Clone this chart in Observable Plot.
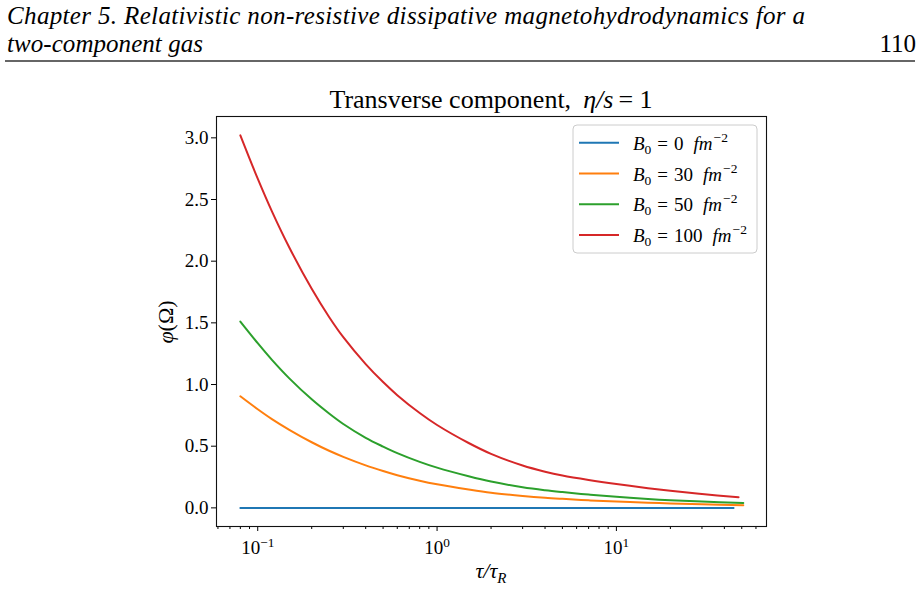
<!DOCTYPE html>
<html>
<head>
<meta charset="utf-8">
<script src="https://cdn.jsdelivr.net/npm/d3@7"></script>
<script src="https://cdn.jsdelivr.net/npm/@observablehq/plot@0.6"></script>
<style>
  html, body { margin: 0; padding: 0; background: #fff; }
  #page { width: 920px; height: 590px; position: relative; overflow: hidden; background: #fff; }
  #header, #chart svg { display: block; }
</style>
</head>
<body>
<div id="page">
  <svg id="header" width="920" height="70"></svg>
  <div id="chart"></div>
</div>
<script>
// Proper time in units of the relaxation time, shared by all curves
const tau = [0.08, 0.1, 0.12, 0.15, 0.2, 0.25, 0.3, 0.4, 0.5, 0.6, 0.8, 1,
             1.5, 2, 3, 4, 5, 7, 10, 15, 20, 30];
// Last time sample of each curve (B0 = 0, 30, 50, 100)
const tauEnd = [45, 51, 51, 48];

// Magnetic field strengths B0 in fm^-2
const fields = [0, 30, 50, 100];
const colors = ["#1f77b4", "#ff7f0e", "#2ca02c", "#d62728"];

// Transverse component φ(Ω) for each field strength
const phiB0   = [0, 0, 0, 0, 0, 0, 0, 0, 0, 0, 0, 0, 0, 0, 0, 0, 0, 0, 0, 0, 0, 0, 0];
const phiB30  = [0.905, 0.800, 0.720, 0.633, 0.532, 0.463, 0.414, 0.345, 0.299, 0.265, 0.220, 0.191,
                 0.149, 0.123, 0.097, 0.082, 0.073, 0.061, 0.051, 0.042, 0.036, 0.029, 0.022];
const phiB50  = [1.51, 1.335, 1.20, 1.05, 0.88, 0.765, 0.68, 0.568, 0.497, 0.444, 0.373, 0.326,
                 0.256, 0.213, 0.167, 0.143, 0.128, 0.108, 0.090, 0.072, 0.062, 0.051, 0.040];
const phiB100 = [3.02, 2.669, 2.404, 2.111, 1.776, 1.548, 1.384, 1.166, 1.020, 0.914, 0.769, 0.672,
                 0.526, 0.438, 0.343, 0.293, 0.262, 0.226, 0.193, 0.160, 0.139, 0.112, 0.086];

// Axis ticks
const yTicks = [0, 0.5, 1, 1.5, 2, 2.5, 3];
const xMajor = [0.1, 1, 10];
const xMinor = [0.06, 0.07, 0.08, 0.09, 0.2, 0.3, 0.4, 0.5, 0.6, 0.7, 0.8, 0.9,
                2, 3, 4, 5, 6, 7, 8, 9, 20, 30, 40, 50, 60];

const seriesValues = [phiB0, phiB30, phiB50, phiB100];
const rows = fields.flatMap((b, i) =>
  seriesValues[i].map((v, j) => ({tau: j < tau.length ? tau[j] : tauEnd[i], phi: v, b}))
);

// Pick the first installed Times-like serif face
function pickFont(candidates) {
  const ctx = document.createElement("canvas").getContext("2d");
  const sample = "Transverse component 0123456789 Relativistic";
  for (const base of ["monospace", "sans-serif"]) {
    ctx.font = `40px ${base}`;
    const ref = ctx.measureText(sample).width;
    for (const f of candidates) {
      ctx.font = `40px "${f}", ${base}`;
      if (Math.abs(ctx.measureText(sample).width - ref) > 0.5) return `"${f}", serif`;
    }
  }
  return "serif";
}
const serif = pickFont(["Liberation Serif", "Tinos", "Times New Roman", "Nimbus Roman",
                        "Nimbus Roman No9 L", "FreeSerif", "DejaVu Serif", "Noto Serif"]);

// Running page header
const header = d3.select("#header");
header.append("text")
  .attr("x", 7).attr("y", 24).attr("text-anchor", "start")
  .attr("font-family", serif).attr("font-style", "italic").attr("font-size", 25)
  .attr("textLength", 798).attr("lengthAdjust", "spacing")
  .text("Chapter 5.   Relativistic non-resistive dissipative magnetohydrodynamics for a");
header.append("text")
  .attr("x", 7).attr("y", 52).attr("text-anchor", "start")
  .attr("font-family", serif).attr("font-style", "italic").attr("font-size", 25)
  .attr("textLength", 196).attr("lengthAdjust", "spacing")
  .text("two-component gas");
header.append("text")
  .attr("x", 916).attr("y", 52).attr("text-anchor", "end")
  .attr("font-family", serif).attr("font-size", 25)
  .text("110");
header.append("line")
  .attr("x1", 5).attr("x2", 915).attr("y1", 61).attr("y2", 61)
  .attr("stroke", "#333").attr("stroke-width", 1.3);

const chart = Plot.plot({
  width: 920,
  height: 520,
  marginTop: 46,
  marginBottom: 64,
  marginLeft: 216,
  marginRight: 154,
  style: {fontFamily: serif, background: "white", color: "black"},
  x: {type: "log", domain: [0.0589, 68.7]},
  y: {domain: [-0.151, 3.173]},
  color: {domain: fields, range: colors},
  marks: [
    Plot.axisY({ticks: yTicks, tickSize: 5, tickPadding: 3, tickFormat: d3.format(".1f"),
                fontSize: 19, label: null}),
    Plot.axisX({ticks: xMinor, tickSize: 3, tickFormat: () => "", label: null}),
    Plot.axisX({ticks: xMajor, tickSize: 5, tickPadding: 9,
                tickFormat: d => "10^" + Math.round(Math.log10(d)), fontSize: 19, label: null}),
    Plot.line(rows, {x: "tau", y: "phi", z: "b", stroke: "b", strokeWidth: 2, curve: "catmull-rom"}),
    Plot.frame({stroke: "#111", strokeWidth: 1.1})
  ]
});

document.getElementById("chart").appendChild(chart);
const svg = d3.select(chart);

// Powers of ten with a raised exponent
svg.selectAll('g[aria-label="x-axis tick label"] text').each(function() {
  const t = this.textContent;
  if (!t.startsWith("10^")) return;
  const e = t.slice(3).replace("-", "\u2212");
  const s = d3.select(this);
  s.text(null);
  s.append("tspan").text("10");
  s.append("tspan").attr("dy", "-0.5em").attr("font-size", "70%").text(e);
});

const cx = 216 + (920 - 216 - 154) / 2;

// Title
const title = svg.append("text")
  .attr("x", cx).attr("y", 38).attr("text-anchor", "middle")
  .attr("font-family", serif).attr("font-size", 26).attr("fill", "black");
title.append("tspan").text("Transverse component,");
title.append("tspan").attr("dx", 12).attr("font-style", "italic").text("η/s");
title.append("tspan").attr("dx", 5).text("= 1");

// Axis labels
const ylab = svg.append("text")
  .attr("transform", "translate(173,252) rotate(-90)")
  .attr("text-anchor", "middle")
  .attr("font-family", serif).attr("font-size", 22).attr("fill", "black");
ylab.append("tspan").attr("font-style", "italic").text("φ");
ylab.append("tspan").text("(Ω)");

const xlab = svg.append("text")
  .attr("x", cx).attr("y", 508).attr("text-anchor", "middle")
  .attr("font-family", serif).attr("font-size", 22).attr("font-style", "italic").attr("fill", "black");
xlab.append("tspan").text("τ/τ");
xlab.append("tspan").attr("dy", 5).attr("font-size", 15).text("R");

// Legend
const lg = svg.append("g");
lg.append("rect")
  .attr("x", 573).attr("y", 55).attr("width", 184).attr("height", 128).attr("rx", 4)
  .attr("fill", "white").attr("fill-opacity", 0.8)
  .attr("stroke", "#cccccc").attr("stroke-width", 1);
fields.forEach((b, i) => {
  const y = 72.7 + i * 30.8;
  lg.append("line")
    .attr("x1", 579).attr("x2", 619).attr("y1", y).attr("y2", y)
    .attr("stroke", colors[i]).attr("stroke-width", 2);
  const t = lg.append("text")
    .attr("x", 633).attr("y", y + 7).attr("text-anchor", "start")
    .attr("font-family", serif).attr("font-size", 19).attr("fill", "black");
  t.append("tspan").attr("font-style", "italic").text("B");
  t.append("tspan").attr("dy", 4).attr("font-size", 13.5).text("0");
  t.append("tspan").attr("dy", -4).attr("dx", 6).text("=");
  t.append("tspan").attr("dx", 6).text(String(b));
  t.append("tspan").attr("dx", 10).attr("font-style", "italic").text("fm");
  t.append("tspan").attr("dy", -8).attr("dx", 1).attr("font-size", 13.5).text("\u22122");
});
</script>
</body>
</html>
